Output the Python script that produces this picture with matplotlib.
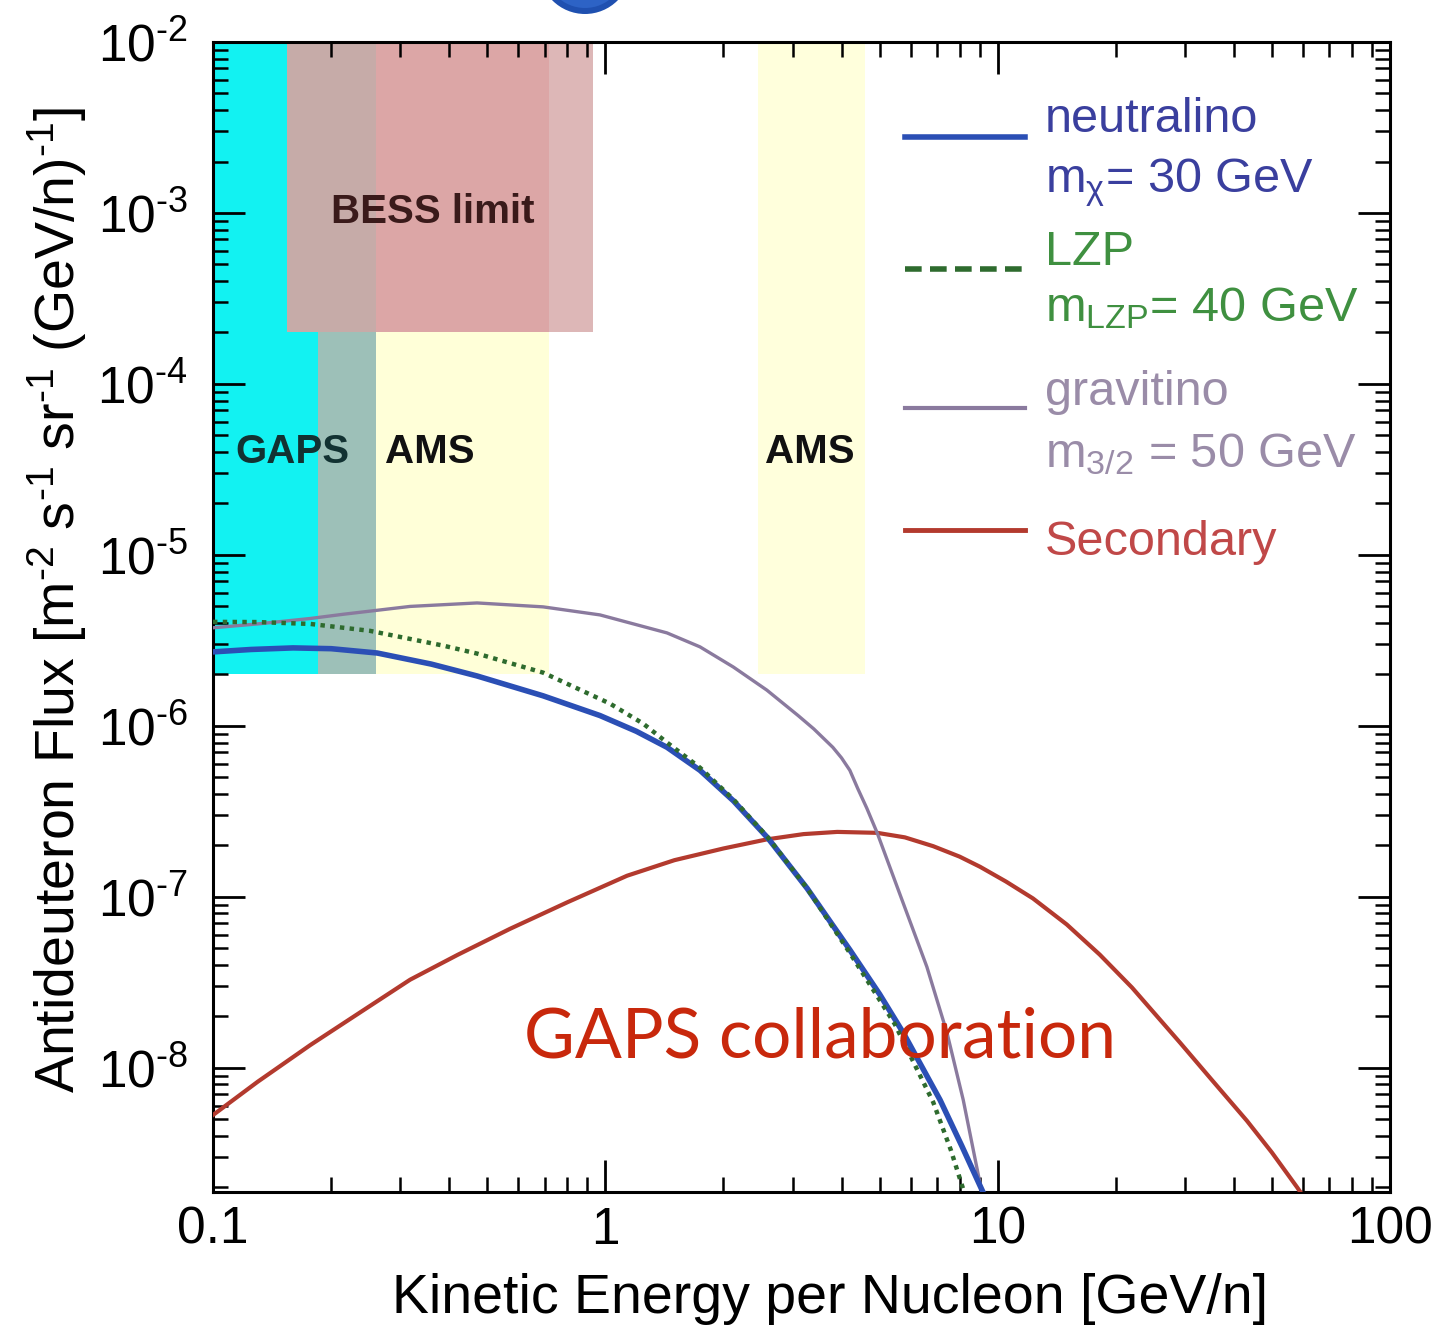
import numpy as np
import matplotlib
matplotlib.use("Agg")
import matplotlib.pyplot as plt
from matplotlib.lines import Line2D
from matplotlib.patches import Circle
from matplotlib.ticker import LogLocator, FixedLocator, FuncFormatter, NullFormatter

plt.rcParams['font.family'] = ['Liberation Sans', 'DejaVu Sans']
plt.rcParams['mathtext.default'] = 'regular'

# kinetic energy per nucleon [GeV/n] and antideuteron flux for each model
neutralino_E = [0.1, 0.125, 0.16, 0.2, 0.262, 0.36, 0.471, 0.694, 0.969, 1.2, 1.436,
                1.743, 2.12, 2.6, 3.27, 4.2, 5.0, 5.75, 7.13, 8.1, 9.17, 9.5]
neutralino_flux = [2.71e-6, 2.8e-6, 2.86e-6, 2.83e-6, 2.67e-6, 2.3e-6, 1.96e-6, 1.5e-6,
                   1.15e-6, 9.3e-7, 7.5e-7, 5.5e-7, 3.65e-7, 2.2e-7, 1.12e-7, 4.9e-8,
                   2.7e-8, 1.6e-8, 6.5e-9, 3.5e-9, 1.88e-9, 1.55e-9]

lzp_E = [0.1, 0.13, 0.177, 0.251, 0.386, 0.471, 0.694, 1.028, 1.25, 1.436, 1.743, 2.12,
         2.6, 3.27, 4.2, 5.0, 5.47, 6.85, 7.6, 8.2, 8.5]
lzp_flux = [4.06e-6, 4.05e-6, 3.95e-6, 3.6e-6, 2.95e-6, 2.65e-6, 2.05e-6, 1.35e-6,
            1.03e-6, 8.0e-7, 5.7e-7, 3.72e-7, 2.22e-7, 1.12e-7, 4.7e-8, 2.5e-8,
            1.8e-8, 6.3e-9, 3.3e-9, 1.9e-9, 1.5e-9]

gravitino_E = [0.1, 0.13, 0.177, 0.215, 0.318, 0.471, 0.694, 0.969, 1.436, 1.743,
               2.12, 2.58, 3.1, 3.4, 3.8, 4.0, 4.2, 4.4, 4.64, 4.93, 5.64, 6.6, 7.43,
               8.17, 9.02, 9.3]
gravitino_flux = [3.75e-6, 3.95e-6, 4.25e-6, 4.5e-6, 5.0e-6, 5.24e-6, 4.97e-6, 4.46e-6,
                  3.5e-6, 2.9e-6, 2.21e-6, 1.62e-6, 1.15e-6, 9.6e-7, 7.5e-7, 6.5e-7,
                  5.5e-7, 4.3e-7, 3.3e-7, 2.37e-7, 1.03e-7, 3.9e-8, 1.6e-8, 6.5e-9,
                  2.1e-9, 1.5e-9]

secondary_E = [0.1, 0.13, 0.177, 0.24, 0.318, 0.42, 0.571, 0.8, 1.136, 1.5, 2.0, 2.58,
               3.2, 3.9, 4.93, 5.8, 6.85, 8.0, 9.02, 10.5, 12.3, 15, 18.2, 22, 29.2,
               35, 43.2, 50, 58, 62]
secondary_flux = [5.3e-9, 8.3e-9, 1.36e-8, 2.15e-8, 3.28e-8, 4.58e-8, 6.5e-8, 9.3e-8,
                  1.33e-7, 1.64e-7, 1.92e-7, 2.17e-7, 2.33e-7, 2.4e-7, 2.37e-7, 2.23e-7,
                  1.98e-7, 1.72e-7, 1.5e-7, 1.23e-7, 9.8e-8, 6.9e-8, 4.6e-8, 2.95e-8,
                  1.4e-8, 8.6e-9, 4.9e-9, 3.2e-9, 2.0e-9, 1.6e-9]

# experiment sensitivity regions: (E_min, E_max), (flux_min, flux_max)
gaps_E = (0.1, 0.26)
ams_low_E = (0.185, 0.72)
ams_high_E = (2.45, 4.6)
search_flux = (2e-6, 1e-2)
bess_E = (0.154, 0.93)
bess_flux = (2e-4, 1e-2)

HY = '\u2010'  # short hyphen used in the exponents

legend_lines = [['neutralino', '$m_{\\chi}$= 30 GeV'],
                ['LZP', '$m_{LZP}$= 40 GeV'],
                ['gravitino', '$m_{3/2}$ = 50 GeV'],
                ['Secondary']]

c_neu = '#2B4FB5'
c_lzp = '#2E6B2E'
c_gra = '#8A7A9E'
c_sec = '#B33A2E'
text_colors = ['#3A3F9E', '#3F9040', '#9A8CA8', '#C04848']

fig = plt.figure(figsize=(14.42, 13.27), dpi=100)
ax = fig.add_axes([0.14771, 0.10173, 0.81623, 0.86662])
ax.set_xscale('log')
ax.set_yscale('log')
ax.set_xlim(0.1, 100)
ax.set_ylim(1.88e-9, 1e-2)


def span(e, f, color):
    ax.fill_between(list(e), f[0], f[1], color=color, lw=0, zorder=1)


def overlap(a, b):
    return (max(a[0], b[0]), min(a[1], b[1]))


# sensitivity bands
span(gaps_E, search_flux, '#12F2F2')
span(ams_low_E, search_flux, '#FFFFD8')
span(ams_high_E, search_flux, '#FFFFDC')
span(overlap(gaps_E, ams_low_E), search_flux, '#9DC0B8')
span(bess_E, bess_flux, '#DCA6A6')
span(overlap(bess_E, gaps_E), bess_flux, '#C6ABA8')
span((ams_low_E[1], bess_E[1]), bess_flux, '#DDB7B7')

# model curves
ax.plot(secondary_E, secondary_flux, color=c_sec, lw=3.0, zorder=3)
ax.plot(gravitino_E, gravitino_flux, color=c_gra, lw=2.4, zorder=3)
ax.plot(neutralino_E, neutralino_flux, color=c_neu, lw=4.0, zorder=3)
ax.plot(lzp_E, lzp_flux, color=c_lzp, lw=3.2, ls=(0, (1.0, 1.2)), zorder=4)

bold = dict(fontsize=29, fontweight='bold', ha='center', va='center', zorder=5)
ax.text(0.364, 1.01e-3, 'BESS limit', color='#3A1A1A', **bold)
ax.text(0.159, 4.0e-5, 'GAPS', color='#123232', **bold)
ax.text(0.357, 4.0e-5, 'AMS', color='#111111', **bold)
ax.text(3.32, 4.0e-5, 'AMS', color='#111111', **bold)

ax.text(3.53, 1.5e-8, 'GAPS collaboration', color='#C8280C', fontsize=50,
        family=['Lato', 'DejaVu Sans'], ha='center', va='center', zorder=6)

# key drawn in axes fraction: sample line, then one or two text rows
key_handles = [Line2D([], [], color=c_neu, lw=4),
               Line2D([], [], color=c_lzp, lw=4, ls=(0, (3, 1.5))),
               Line2D([], [], color=c_gra, lw=3),
               Line2D([], [], color=c_sec, lw=3.5)]
key_line_y = [0.917, 0.803, 0.682, 0.576]
key_text_y = [[0.922, 0.869], [0.806, 0.757], [0.684, 0.630], [0.554]]
for h, ly, rows, tys, col in zip(key_handles, key_line_y, legend_lines, key_text_y, text_colors):
    h.set_data([0.588, 0.690], [ly, ly])
    h.set_transform(ax.transAxes)
    h.set_clip_on(False)
    ax.add_line(h)
    for row, ty in zip(rows, tys):
        ax.text(0.707, ty, row, color=col, fontsize=35, transform=ax.transAxes,
                va='baseline', ha='left', zorder=6)

# axes styling
for s in ax.spines.values():
    s.set_linewidth(2.2)
ax.tick_params(which='both', direction='in', top=True, right=True)
ax.tick_params(which='major', length=23, width=2.0, labelsize=37)
ax.tick_params(which='minor', length=11, width=1.8)
ax.tick_params(axis='y', pad=18)
ax.tick_params(axis='x', pad=10)
ax.xaxis.set_major_locator(FixedLocator([0.1, 1, 10, 100]))
ax.xaxis.set_major_formatter(FuncFormatter(lambda v, p: '%g' % v))
ax.xaxis.set_minor_locator(LogLocator(base=10, subs=np.arange(2, 10), numticks=20))
ax.xaxis.set_minor_formatter(NullFormatter())
ax.yaxis.set_major_locator(FixedLocator([1e-8, 1e-7, 1e-6, 1e-5, 1e-4, 1e-3, 1e-2]))
ax.yaxis.set_major_formatter(
    FuncFormatter(lambda v, p: '$10^{%s%d}$' % (HY, -round(np.log10(v)))))
ax.yaxis.set_minor_locator(LogLocator(base=10, subs=np.arange(2, 10), numticks=20))
ax.yaxis.set_minor_formatter(NullFormatter())

ax.set_xlabel('Kinetic Energy per Nucleon [GeV/n]', fontsize=40)
ax.xaxis.set_label_coords(0.524, -0.07)
ax.set_ylabel('Antideuteron Flux [m$^{%s2}$ s$^{%s1}$ sr$^{%s1}$ (GeV/n)$^{%s1}$]'
              % (HY, HY, HY, HY), fontsize=40)
ax.yaxis.set_label_coords(-0.105, 0.515)

# logo disc at the top edge, lighter towards the middle
for r, fc in [(0.46, '#1F50B0'), (0.40, '#2D63C6'), (0.30, '#3F78D6')]:
    fig.add_artist(Circle((5.85, 13.59), r, transform=fig.dpi_scale_trans,
                          facecolor=fc, edgecolor='none', clip_on=False))

fig.savefig('out.png', dpi=100)
